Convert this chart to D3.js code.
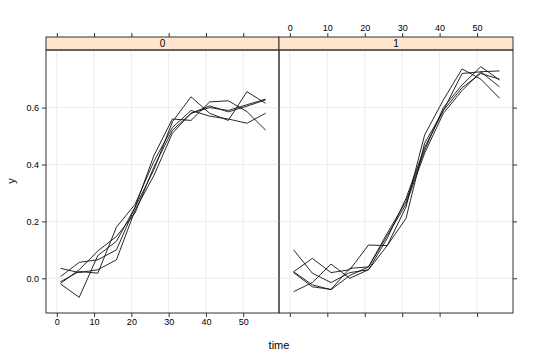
<!DOCTYPE html>
<html>
<head>
<meta charset="utf-8">
<script src="https://cdn.jsdelivr.net/npm/d3@7"></script>
<style>
  html, body { margin: 0; padding: 0; background: #fff; }
  svg { display: block; font-family: "Liberation Sans", Arial, sans-serif; }
</style>
</head>
<body>
<svg id="chart" width="540" height="360"></svg>
<script>
// ---- data ----
const panels = ["0", "1"];
const times = [1, 6, 11, 16, 21, 26, 31, 36, 41, 46, 51, 56];
const xTicks = [0, 10, 20, 30, 40, 50];
const yTicks = [0.0, 0.2, 0.4, 0.6];
const yTickLabels = ["0.0", "0.2", "0.4", "0.6"];

const panel0Series = [
  [0.035, 0.020, 0.030, 0.065, 0.240, 0.360, 0.510, 0.580, 0.600, 0.590, 0.610, 0.630],
  [-0.020, -0.067, 0.080, 0.130, 0.250, 0.380, 0.550, 0.638, 0.580, 0.555, 0.656, 0.615],
  [0.006, 0.056, 0.065, 0.100, 0.250, 0.430, 0.560, 0.555, 0.620, 0.624, 0.586, 0.521],
  [-0.012, 0.024, 0.018, 0.180, 0.260, 0.410, 0.530, 0.590, 0.570, 0.560, 0.545, 0.580],
  [-0.018, 0.030, 0.096, 0.147, 0.230, 0.390, 0.520, 0.580, 0.606, 0.585, 0.605, 0.627]
];
const panel1Series = [
  [0.100, 0.018, -0.015, 0.020, 0.030, 0.115, 0.210, 0.475, 0.590, 0.720, 0.726, 0.673],
  [0.023, 0.070, 0.020, 0.030, 0.117, 0.115, 0.250, 0.504, 0.627, 0.736, 0.700, 0.633],
  [0.023, -0.023, -0.040, 0.010, 0.040, 0.158, 0.270, 0.450, 0.600, 0.680, 0.744, 0.697],
  [0.020, -0.030, -0.039, 0.035, 0.040, 0.150, 0.260, 0.440, 0.580, 0.660, 0.726, 0.729],
  [-0.047, -0.015, 0.050, 0.000, 0.030, 0.140, 0.280, 0.460, 0.590, 0.670, 0.720, 0.700]
];
const seriesByPanel = [panel0Series, panel1Series];

// ---- layout ----
const svg = d3.select("#chart");
const stripTop = 37, panelTop = 50, panelBottom = 313;
const panelX = [[46, 279], [279, 513]];
const xDomain = [-2.9, 59.6];
const yScale = d3.scaleLinear().domain([-0.122, 0.8025]).range([panelBottom, panelTop]);
const xScales = panelX.map(r => d3.scaleLinear().domain(xDomain).range(r));

const borderColor = "#333";
const gridColor = "#ececec";

panels.forEach((p, i) => {
  const xs = xScales[i];
  const [x0, x1] = panelX[i];
  const g = svg.append("g");

  // gridlines
  g.selectAll(".vg").data(xTicks).enter().append("line")
    .attr("x1", d => xs(d)).attr("x2", d => xs(d))
    .attr("y1", panelTop).attr("y2", panelBottom)
    .attr("stroke", gridColor).attr("stroke-width", 1);
  g.selectAll(".hg").data(yTicks).enter().append("line")
    .attr("x1", x0).attr("x2", x1)
    .attr("y1", d => yScale(d)).attr("y2", d => yScale(d))
    .attr("stroke", gridColor).attr("stroke-width", 1);

  // lines
  const line = d3.line().x((d, k) => xs(times[k])).y(d => yScale(d));
  seriesByPanel[i].forEach(s => {
    g.append("path").attr("d", line(s))
      .attr("fill", "none").attr("stroke", "#111").attr("stroke-width", 0.9);
  });

  // strip
  g.append("rect").attr("x", x0).attr("y", stripTop)
    .attr("width", x1 - x0).attr("height", panelTop - stripTop)
    .attr("fill", "#ffe5cc").attr("stroke", borderColor).attr("stroke-width", 1);
  g.append("text").attr("x", (x0 + x1) / 2).attr("y", panelTop - 3)
    .attr("text-anchor", "middle").attr("font-size", 10).attr("fill", "#000").text(p);

  // panel border
  g.append("rect").attr("x", x0).attr("y", panelTop)
    .attr("width", x1 - x0).attr("height", panelBottom - panelTop)
    .attr("fill", "none").attr("stroke", borderColor).attr("stroke-width", 1);

  // bottom axis
  const bottom = d3.axisBottom(xs).tickValues(xTicks).tickSize(4).tickPadding(2)
    .tickFormat(i === 0 ? d3.format("d") : () => "");
  const gb = svg.append("g").attr("transform", `translate(0,${panelBottom})`).call(bottom);
  // top axis
  const top = d3.axisTop(xs).tickValues(xTicks).tickSize(4).tickPadding(2)
    .tickFormat(i === 1 ? d3.format("d") : () => "");
  const gt = svg.append("g").attr("transform", `translate(0,${stripTop})`).call(top);
  [gb, gt].forEach(a => {
    a.select(".domain").remove();
    a.selectAll("line").attr("stroke", borderColor);
    a.selectAll("text").attr("font-size", 9).attr("fill", "#000")
      .attr("font-family", "Liberation Sans, Arial, sans-serif");
  });
});

// y axes
const left = d3.axisLeft(yScale).tickValues(yTicks).tickSize(4).tickPadding(3)
  .tickFormat((d, k) => yTickLabels[k]);
const gl = svg.append("g").attr("transform", `translate(${panelX[0][0]},0)`).call(left);
const right = d3.axisRight(yScale).tickValues(yTicks).tickSize(4).tickFormat(() => "");
const gr = svg.append("g").attr("transform", `translate(${panelX[1][1]},0)`).call(right);
[gl, gr].forEach(a => {
  a.select(".domain").remove();
  a.selectAll("line").attr("stroke", borderColor);
  a.selectAll("text").attr("font-size", 9).attr("fill", "#000")
    .attr("font-family", "Liberation Sans, Arial, sans-serif");
});

// axis titles
svg.append("text").attr("x", 279).attr("y", 349).attr("text-anchor", "middle")
  .attr("font-size", 11).text("time");
svg.append("text").attr("transform", "translate(15,181) rotate(-90)")
  .attr("text-anchor", "middle").attr("font-size", 11).text("y");
</script>
</body>
</html>
